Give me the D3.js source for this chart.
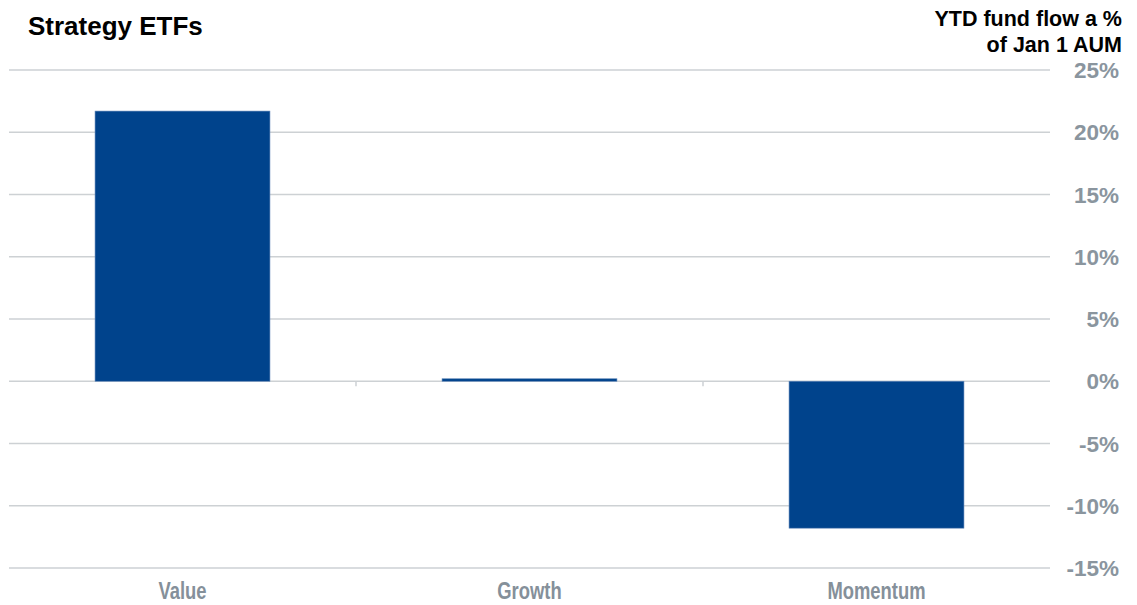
<!DOCTYPE html>
<html>
<head>
<meta charset="utf-8">
<script src="https://cdn.jsdelivr.net/npm/d3@7"></script>
<style>
body { margin: 0; background: #fff; }
</style>
</head>
<body>
<svg width="1137" height="605"></svg>
<script>
var categories = ["Value", "Growth", "Momentum"];
var flows = [21.7, 0.2, -11.8];
var yTicks = [25, 20, 15, 10, 5, 0, -5, -10, -15];

var svg = d3.select("svg"),
    plotLeft = 9,
    plotRight = 1050,
    plotTop = 70,
    plotBottom = 568;

var x = d3.scaleBand()
    .domain(categories)
    .range([plotLeft, plotRight])
    .paddingInner(0.496)
    .paddingOuter(0.248);

var y = d3.scaleLinear()
    .domain([-15, 25])
    .range([plotBottom, plotTop]);

// gridlines
svg.append("g")
    .selectAll("line")
    .data(yTicks)
    .enter()
    .append("line")
    .attr("x1", plotLeft)
    .attr("x2", plotRight)
    .attr("y1", function(d){ return y(d) })
    .attr("y2", function(d){ return y(d) })
    .attr("stroke", "#cdd1d4")
    .attr("stroke-width", 1.5);

// y labels on the right
svg.append("g")
    .selectAll("text")
    .data(yTicks)
    .enter()
    .append("text")
    .attr("x", 1119)
    .attr("y", function(d){ return y(d) + 8 })
    .attr("text-anchor", "end")
    .attr("font-family", "'Liberation Sans', Arial, sans-serif")
    .attr("font-weight", "bold")
    .attr("font-size", "22.5px")
    .attr("fill", "#8a959e")
    .text(function(d){ return d + "%" });

// bars
svg.append("g")
    .selectAll("rect")
    .data(flows)
    .enter()
    .append("rect")
    .attr("x", function(d, i){ return x(categories[i]) })
    .attr("width", x.bandwidth())
    .attr("y", function(d){ return y(Math.max(0, d)) })
    .attr("height", function(d){ return Math.abs(y(d) - y(0)) })
    .attr("fill", "#00438c")
    .attr("stroke", "#5f86b8")
    .attr("stroke-width", 0.6);

// category separator ticks on zero line
var gap = x.step() - x.bandwidth();
svg.append("g")
    .selectAll("line")
    .data(categories.slice(1))
    .enter()
    .append("line")
    .attr("x1", function(d){ return x(d) - gap / 2 })
    .attr("x2", function(d){ return x(d) - gap / 2 })
    .attr("y1", y(0))
    .attr("y2", y(0) + 5)
    .attr("stroke", "#cdd1d4")
    .attr("stroke-width", 1.5);

// category labels (condensed bold look)
svg.append("g")
    .selectAll("text")
    .data(categories)
    .enter()
    .append("text")
    .attr("transform", function(d){
        return "translate(" + (x(d) + x.bandwidth() / 2) + ",599) scale(0.8,1)";
    })
    .attr("text-anchor", "middle")
    .attr("font-family", "'Liberation Sans Narrow', 'Liberation Sans', sans-serif")
    .attr("font-weight", "bold")
    .attr("font-size", "23px")
    .attr("fill", "#85909a")
    .text(function(d){ return d });

// title
svg.append("text")
    .attr("x", 28)
    .attr("y", 35)
    .attr("font-family", "'Liberation Sans', Arial, sans-serif")
    .attr("font-weight", "bold")
    .attr("font-size", "26px")
    .attr("fill", "#000")
    .text("Strategy ETFs");

// axis title
var axisTitle = svg.append("text")
    .attr("text-anchor", "end")
    .attr("font-family", "'Liberation Sans', Arial, sans-serif")
    .attr("font-weight", "bold")
    .attr("font-size", "21.5px")
    .attr("fill", "#000");
axisTitle.append("tspan").attr("x", 1122).attr("y", 26).text("YTD fund flow a %");
axisTitle.append("tspan").attr("x", 1122).attr("y", 52).text("of Jan 1 AUM");
</script>
</body>
</html>
